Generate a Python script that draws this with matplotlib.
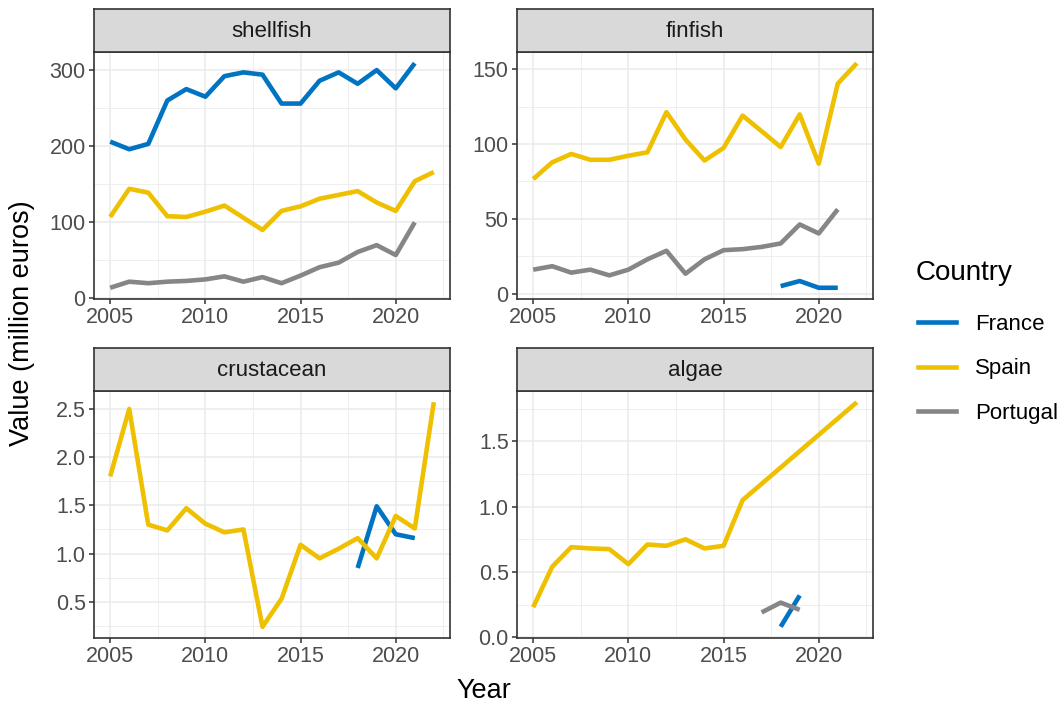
import matplotlib
matplotlib.use('Agg')
import matplotlib.pyplot as plt
from matplotlib.ticker import MultipleLocator, FormatStrFormatter
from matplotlib.lines import Line2D

plt.rcParams['font.family'] = ['Liberation Sans', 'DejaVu Sans']

# data (million euros)
years_05_21 = list(range(2005, 2022))
years_05_22 = list(range(2005, 2023))

shellfish_france = [206, 196, 203, 260, 275, 265, 292, 297, 294, 256, 256, 286, 297, 282, 300, 276, 309]
shellfish_spain = [107, 144, 139, 108, 107, 114, 122, 106, 90, 115, 121, 131, 136, 141, 126, 115, 154, 166]
shellfish_portugal = [14, 22, 20, 22, 23, 25, 29, 22, 28, 20, 30, 41, 47, 61, 70, 57, 100]

finfish_france_years = [2018, 2019, 2020, 2021]
finfish_france = [5.1, 8.5, 4.0, 4.0]
finfish_spain = [76.6, 87.8, 93.4, 89.5, 89.5, 92.2, 94.5, 121.3, 103, 89, 97.4, 119, 108.6, 98, 119.8, 86.9, 140.4, 154]
finfish_portugal = [16.1, 18.4, 14.1, 16.1, 12.3, 16.1, 23, 28.7, 13.4, 23, 29.1, 29.8, 31.3, 33.6, 46.3, 40.3, 56.4]

crustacean_france_years = [2018, 2019, 2020, 2021]
crustacean_france = [0.85, 1.49, 1.20, 1.16]
crustacean_spain = [1.80, 2.50, 1.30, 1.24, 1.47, 1.31, 1.22, 1.25, 0.24, 0.53, 1.09, 0.95, 1.05, 1.16, 0.95, 1.39, 1.26, 2.57]

algae_france_years = [2018, 2019]
algae_france = [0.08, 0.32]
algae_spain_years = list(range(2005, 2017)) + [2022]
algae_spain = [0.23, 0.54, 0.69, 0.68, 0.675, 0.56, 0.71, 0.70, 0.75, 0.68, 0.70, 1.05, 1.80]
algae_portugal_years = [2017, 2018, 2019]
algae_portugal = [0.19, 0.265, 0.21]

countries = ['France', 'Spain', 'Portugal']
colors = {'France': '#0073C2', 'Spain': '#EFC000', 'Portugal': '#868686'}

panels = [
    ('shellfish', [('France', years_05_21, shellfish_france),
                   ('Spain', years_05_22, shellfish_spain),
                   ('Portugal', years_05_21, shellfish_portugal)], 100, 50, '%d'),
    ('finfish', [('France', finfish_france_years, finfish_france),
                 ('Spain', years_05_22, finfish_spain),
                 ('Portugal', years_05_21, finfish_portugal)], 50, 25, '%d'),
    ('crustacean', [('France', crustacean_france_years, crustacean_france),
                    ('Spain', years_05_22, crustacean_spain)], 0.5, 0.25, '%.1f'),
    ('algae', [('France', algae_france_years, algae_france),
               ('Spain', algae_spain_years, algae_spain),
               ('Portugal', algae_portugal_years, algae_portugal)], 0.5, 0.25, '%.1f'),
]

W, H = 1064, 706
fig = plt.figure(figsize=(W / 100, H / 100), dpi=100)

cols = [(94, 450), (517, 873)]
rows = [(52, 299), (391, 638)]
strip_h = 43

dark = '#333333'
for i, (name, series, major, minor, fmt) in enumerate(panels):
    x0, x1 = cols[i % 2]
    y0, y1 = rows[i // 2]
    ax = fig.add_axes([x0 / W, 1 - y1 / H, (x1 - x0) / W, (y1 - y0) / H])
    for country, xs, ys in series:
        ax.plot(xs, ys, color=colors[country], lw=3.3, solid_capstyle='butt', zorder=3)
    ax.margins(x=0.05, y=0.05)
    ax.xaxis.set_major_locator(MultipleLocator(5))
    ax.xaxis.set_minor_locator(MultipleLocator(2.5))
    ax.yaxis.set_major_locator(MultipleLocator(major))
    ax.yaxis.set_minor_locator(MultipleLocator(minor))
    ax.yaxis.set_major_formatter(FormatStrFormatter(fmt))
    ax.grid(True, which='major', color='#EBEBEB', lw=1.1, zorder=0)
    ax.grid(True, which='minor', color='#EBEBEB', lw=0.55, zorder=0)
    ax.set_axisbelow(True)
    ax.tick_params(which='major', direction='out', length=3.5, width=1.1, color=dark,
                   labelcolor='#4D4D4D', labelsize=15.5, pad=2.5)
    ax.tick_params(which='minor', length=0)
    for s in ax.spines.values():
        s.set_color(dark)
        s.set_linewidth(1.2)

    # facet strip
    sx = fig.add_axes([x0 / W, 1 - y0 / H, (x1 - x0) / W, strip_h / H])
    sx.set_facecolor('#D9D9D9')
    sx.set_xticks([])
    sx.set_yticks([])
    for s in sx.spines.values():
        s.set_color(dark)
        s.set_linewidth(1.2)
    sx.text(0.5, 0.47, name, ha='center', va='center', fontsize=16, color='#1A1A1A',
            transform=sx.transAxes)

fig.text(484 / W, 1 - 691 / H, 'Year', ha='center', va='center', fontsize=19.5)
fig.text(22 / W, 1 - 323 / H, 'Value (million euros)', ha='center', va='center',
         rotation=90, fontsize=19.5)

# legend
fig.text(916 / W, 1 - 273 / H, 'Country', ha='left', va='center', fontsize=20)
handles = [Line2D([0], [0], color=colors[c], lw=3.3) for c in countries]
leg = fig.legend(handles, countries, loc='upper left',
                 bbox_to_anchor=(918 / W, 1 - 314 / H), frameon=False,
                 fontsize=16, handlelength=1.7, borderpad=0, borderaxespad=0,
                 labelspacing=1.05, handletextpad=0.85)

plt.savefig('out.png', dpi=100)
